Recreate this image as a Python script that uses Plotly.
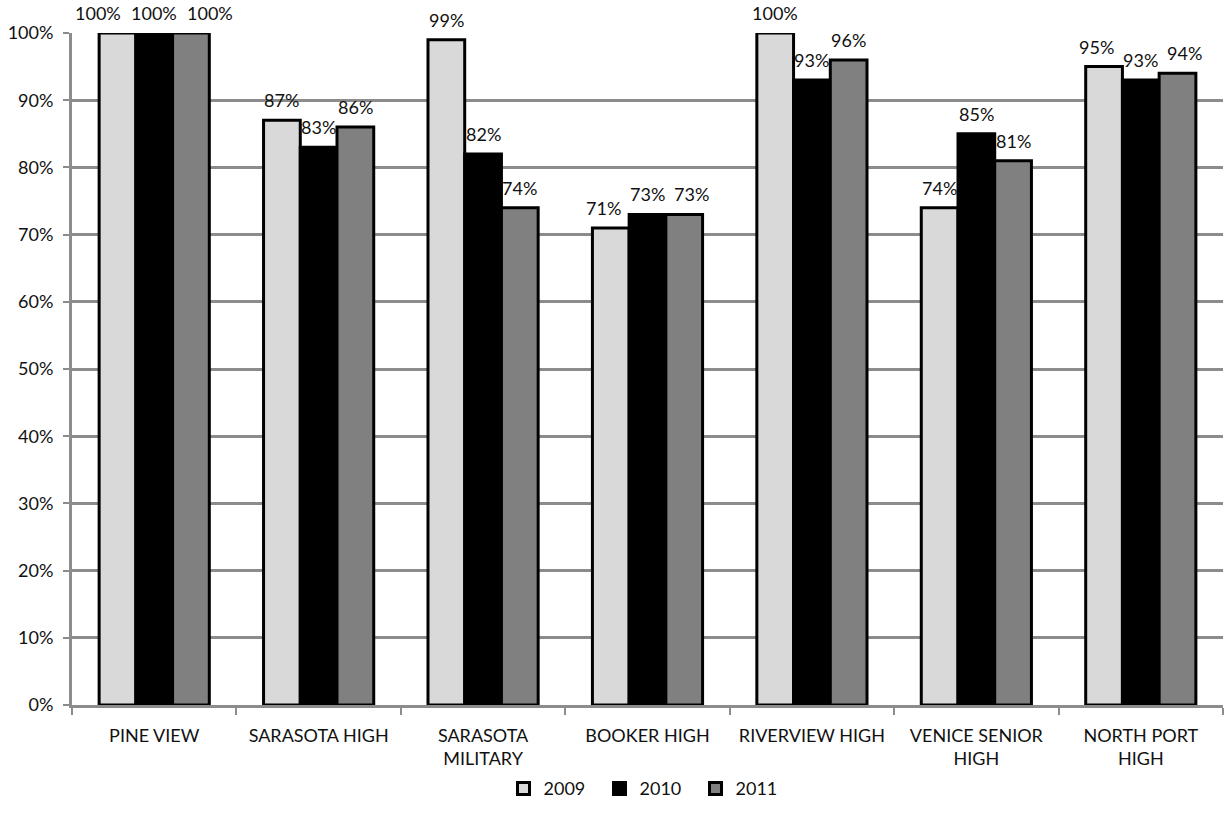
import plotly.graph_objects as go

categories = ["PINE VIEW", "SARASOTA HIGH", "SARASOTA<br>MILITARY", "BOOKER HIGH",
              "RIVERVIEW HIGH", "VENICE SENIOR<br>HIGH", "NORTH PORT<br>HIGH"]
years = ["2009", "2010", "2011"]
v2009 = [1.00, 0.87, 0.99, 0.71, 1.00, 0.74, 0.95]
v2010 = [1.00, 0.83, 0.82, 0.73, 0.93, 0.85, 0.93]
v2011 = [1.00, 0.86, 0.74, 0.73, 0.96, 0.81, 0.94]
colors = ["#d9d9d9", "#000000", "#808080"]
yticks = [i / 10 for i in range(11)]

font = "Lato, 'Open Sans', sans-serif"
txtcol = "#111111"
W, H = 1226, 833
ML, MR, MT, MB = 72, 3, 33, 128
BARGAP = 0.33

fig = go.Figure()
series = [v2009, v2010, v2011]
for name, vals, col in zip(years, series, colors):
    fig.add_trace(go.Bar(
        x=categories, y=vals, name=name,
        marker=dict(color=col, line=dict(color="#000000", width=3)),
        hoverinfo="skip",
    ))

# data labels as annotations, spread apart when neighbouring labels sit at similar height
cat_w = (W - ML - MR) / len(categories)
bar_w = cat_w * (1 - BARGAP) / len(series)
for ci, cat in enumerate(categories):
    vals = [s[ci] for s in series]
    labels = [f"{round(v*100)}%" for v in vals]
    step = bar_w
    if max(vals) - min(vals) < 0.025:
        step = max(bar_w, max(len(t) for t in labels) * 12 + 8)
    for si, (v, t) in enumerate(zip(vals, labels)):
        fig.add_annotation(
            x=cat, y=v, text=t, showarrow=False,
            xref="x", yref="y", yanchor="bottom",
            xshift=(si - 1) * step, yshift=7,
            font=dict(family=font, size=18, color=txtcol),
        )

fig.update_layout(
    width=W, height=H,
    barmode="group", bargap=BARGAP, bargroupgap=0,
    plot_bgcolor="white", paper_bgcolor="white",
    margin=dict(l=ML, r=MR, t=MT, b=MB, autoexpand=False),
    font=dict(family=font, size=18, color=txtcol),
    legend=dict(orientation="h", x=0.5, xanchor="center", y=-0.097, yanchor="top",
                font=dict(size=18), itemwidth=30, entrywidth=51, traceorder="normal"),
)
fig.update_xaxes(
    showline=True, linecolor="#8c8c8c", linewidth=3,
    ticks="outside", tickson="boundaries", ticklen=7, tickwidth=2, tickcolor="#8c8c8c",
    ticklabelstandoff=12,
    tickfont=dict(family=font, size=18, color=txtcol),
)
fig.update_yaxes(
    range=[0, 1], tickvals=yticks, tickformat=".0%",
    showgrid=True, gridcolor="#8c8c8c", gridwidth=3,
    showline=True, linecolor="#8c8c8c", linewidth=3,
    ticks="outside", ticklen=6, tickwidth=2, tickcolor="#8c8c8c",
    ticklabelstandoff=6,
    tickfont=dict(family=font, size=18, color=txtcol),
    zeroline=False,
)
fig.write_html("out.html", config={"displayModeBar": False},
               post_script="document.body.style.margin='0';")
